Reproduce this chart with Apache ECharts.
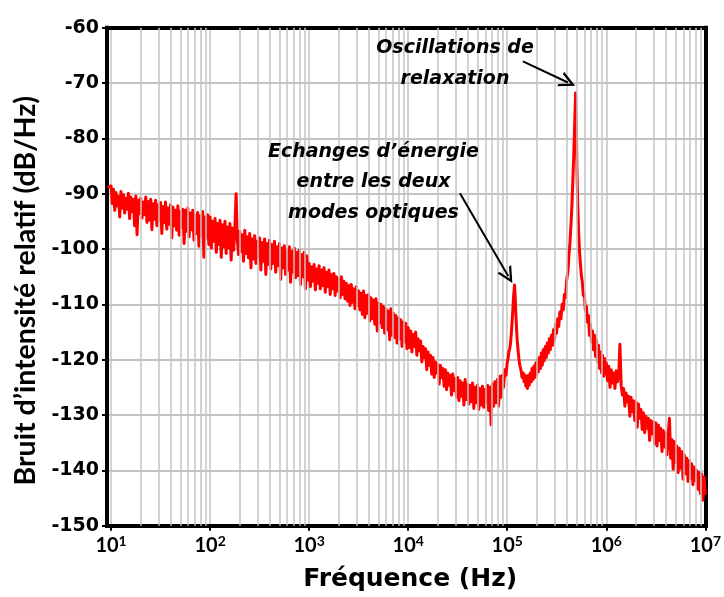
<!DOCTYPE html>
<html>
<head>
<meta charset="utf-8">
<script src="https://cdn.jsdelivr.net/npm/echarts@6/dist/echarts.min.js"></script>
<style>
html,body{margin:0;padding:0;background:#fff;}
#chart{width:724px;height:597px;}
</style>
</head>
<body>
<div id="chart"></div>
<script>
// ---- data (frequency in Hz, level in dB/Hz) ----
// sampling grid inside one decade (mantissas) used for the noisy decades
const sampleMantissa = [
  1.000,1.029,1.059,1.090,1.122,1.155,1.189,1.223,1.259,1.296,
  1.334,1.372,1.413,1.454,1.496,1.540,1.585,1.631,1.679,1.728,
  1.778,1.830,1.884,1.939,1.995,2.054,2.113,2.175,2.239,2.304,
  2.371,2.441,2.512,2.585,2.661,2.738,2.818,2.901,2.985,3.073,
  3.162,3.255,3.350,3.447,3.548,3.652,3.758,3.868,3.981,4.097,
  4.217,4.340,4.467,4.597,4.732,4.870,5.012,5.158,5.309,5.464,
  5.623,5.788,5.957,6.131,6.310,6.494,6.683,6.879,7.079,7.286,
  7.499,7.718,7.943,8.175,8.414,8.660,8.913,9.173,9.441,9.716
];
const startPoint = [9.2, -88.8];
const db10Hz = [
  -88.6,-91.8,-89.2,-93.0,-89.8,-92.2,-90.5,-94.2,-89.6,-92.6,
  -90.2,-93.5,-90.8,-92.8,-89.9,-94.5,-90.6,-93.2,-91.0,-95.8,
  -90.4,-97.4,-91.2,-93.6,-90.8,-94.4,-91.5,-93.8,-90.6,-95.2,
  -91.4,-94.8,-91.0,-96.5,-91.8,-94.6,-91.2,-95.8,-92.0,-94.9,
  -91.6,-97.2,-92.3,-95.2,-91.5,-96.4,-92.6,-95.5,-92.0,-98.0,
  -92.4,-95.8,-93.0,-96.6,-92.2,-97.5,-93.2,-96.0,-92.8,-99.0,
  -93.0,-96.8,-92.6,-97.8,-93.5,-96.5,-93.0,-98.4,-93.8,-97.2,
  -93.4,-99.5,-94.0,-97.6,-93.2,-101.5,-94.2,-98.0,-93.8,-99.2
];
const db100Hz = [
  -94.2,-99.8,-95.0,-98.6,-94.5,-100.6,-95.4,-99.2,-94.8,-101.5,
  -95.6,-99.6,-95.0,-100.8,-96.0,-99.8,-95.4,-102.0,-96.2,-100.2,
  -96.4,-90.0,-98.5,-101.0,-96.8,-100.4,-97.4,-102.2,-96.6,-100.8,
  -97.8,-101.6,-97.2,-103.4,-98.2,-101.8,-97.6,-102.6,-98.6,-101.4,
  -98.0,-103.8,-98.8,-102.2,-98.2,-104.6,-99.0,-102.8,-98.4,-103.6,
  -99.2,-102.6,-98.6,-104.2,-99.6,-103.0,-99.0,-105.5,-99.8,-103.4,
  -99.4,-104.6,-100.2,-103.8,-99.6,-106.0,-100.4,-104.2,-99.8,-105.2,
  -100.6,-104.8,-100.2,-106.4,-101.0,-105.0,-100.6,-107.2,-101.2,-105.6
];
const db1kHz = [
  -102.6,-106.8,-103.2,-105.8,-102.8,-107.4,-103.6,-106.2,-103.0,-107.2,
  -103.8,-106.6,-103.4,-107.8,-104.2,-106.8,-103.8,-108.2,-104.6,-107.2,
  -104.4,-108.4,-105.0,-107.6,-105.4,-108.8,-105.0,-108.2,-105.8,-109.0,
  -106.2,-109.4,-106.6,-110.2,-106.4,-109.6,-107.2,-110.8,-106.8,-110.2,
  -107.6,-111.0,-108.0,-111.8,-107.6,-112.4,-108.4,-111.6,-108.2,-113.0,
  -108.8,-112.6,-109.2,-113.6,-109.0,-114.8,-109.8,-113.4,-110.0,-114.2,
  -110.4,-115.2,-110.8,-114.6,-111.2,-116.4,-110.8,-115.6,-111.6,-116.0,
  -112.0,-117.0,-112.4,-116.2,-112.8,-117.6,-113.2,-116.8,-113.4,-118.0
];
const db10kHz = [
  -114.2,-117.8,-114.8,-118.6,-115.4,-117.6,-115.0,-119.2,-116.2,-118.4,
  -116.6,-120.4,-117.6,-119.6,-118.0,-121.8,-118.6,-121.0,-119.2,-122.6,
  -119.6,-123.2,-120.4,-122.4,-120.8,-124.4,-121.0,-123.2,-121.6,-124.8,
  -121.8,-125.4,-122.4,-124.6,-122.8,-126.4,-122.6,-125.6,-123.4,-126.8,
  -123.2,-127.4,-123.8,-126.6,-124.2,-128.2,-123.6,-127.2,-124.4,-128.0,
  -124.6,-127.6,-124.2,-128.8,-125.0,-127.8,-124.6,-129.0,-125.2,-128.2,
  -124.8,-128.6,-125.4,-127.8,-124.6,-129.2,-125.0,-131.8,-124.4,-128.4,
  -124.0,-127.8,-123.6,-128.4,-123.0,-126.8,-122.8,-125.0,-121.8,-122.8
];
// 100 kHz - 1 MHz: the two resonances, sampled where read
const freqPeakHz = [
  100000,102000,104000,106000,108000,110000,112000,114000,116000,118600,
  120500,122000,124000,126000,128500,131000,134000,138000,141000,145000,
  148000,151000,154000,157000,160000,164000,167000,171000,175000,178000,
  182000,186000,190000,194000,198000,202000,206000,211000,216000,221000,
  226000,231000,236000,242000,248000,254000,260000,266000,272000,279000,
  286000,293000,300000,307000,315000,323000,331000,340000,349000,358000,
  368000,378000,388000,398000,410000,420000,430000,440000,450000,460000,
  470000,480000,490000,498000,506000,515000,525000,535000,547000,560000,
  573000,587000,600000,615000,630000,645000,660000,676000,692000,708000,
  725000,742000,760000,778000,797000,816000,835000,855000,876000,897000,
  918000,940000,962000,985000
];
const dbPeak = [
  -120.5,-119.8,-118.5,-118.0,-117.0,-115.2,-113.0,-110.8,-108.4,-106.5,
  -108.8,-111.5,-114.2,-116.5,-118.2,-119.8,-121.0,-122.0,-123.2,-122.4,
  -124.0,-122.8,-124.8,-123.0,-125.2,-122.8,-124.6,-122.4,-124.0,-121.6,
  -123.6,-121.2,-123.2,-120.6,-122.8,-120.0,-122.2,-119.6,-121.6,-118.8,
  -121.0,-118.2,-120.2,-117.6,-119.6,-117.0,-118.8,-116.2,-118.2,-115.6,
  -117.4,-114.6,-116.4,-113.6,-115.2,-112.6,-114.0,-111.4,-112.6,-110.0,
  -111.0,-108.2,-108.8,-105.6,-104.0,-101.0,-98.8,-95.6,-92.0,-87.5,
  -82.5,-77.0,-71.8,-77.5,-86.0,-92.0,-96.5,-100.0,-102.5,-104.8,
  -106.0,-108.4,-108.0,-111.2,-110.4,-113.2,-112.0,-115.6,-113.6,-116.8,
  -114.8,-118.2,-115.6,-119.4,-116.4,-120.4,-117.4,-121.6,-118.6,-122.4,
  -119.2,-123.0,-119.8,-122.6
];
const db1MHz = [
  -120.6,-123.8,-121.2,-125.0,-121.8,-124.2,-122.4,-125.2,-122.0,-124.0,
  -123.0,-117.2,-124.6,-126.4,-125.2,-128.4,-126.0,-127.6,-126.6,-130.2,
  -126.8,-129.4,-127.4,-131.0,-127.6,-132.2,-128.0,-130.6,-129.0,-132.6,
  -129.6,-133.2,-130.2,-132.4,-130.6,-134.6,-131.0,-133.4,-131.2,-135.2,
  -131.4,-135.6,-131.8,-134.6,-132.4,-136.6,-132.8,-135.8,-133.2,-137.2,
  -133.6,-130.6,-137.8,-134.4,-139.8,-134.8,-138.6,-135.6,-140.4,-136.0,
  -139.6,-136.6,-141.6,-137.2,-140.6,-137.8,-142.0,-138.2,-141.4,-138.8,
  -142.6,-139.4,-141.8,-140.0,-143.4,-140.4,-144.2,-140.6,-145.4,-141.2
];
const endPoint = [1e7, -144.4];

// axis ranges and ticks
const xMin = 9.1, xMax = 1e7;
const xMajorTicks = [10, 100, 1000, 10000, 100000, 1000000, 10000000];
const xMinorMultipliers = [2, 3, 4, 5, 6, 7, 8, 9];
const yMin = -150, yMax = -60, yStep = 10;

// annotation texts and arrows (arrow ends in data units: [Hz, dB])
const noteRelax = ['Oscillations de', 'relaxation'];
const noteModes = ["Echanges d\u2019\u00e9nergie", 'entre les deux', 'modes optiques'];
const arrowRelax = [[144000, -66.1], [410000, -69.9]];
const arrowModes = [[33300, -89.9], [102500, -104.9]];

const xTitle = 'Fr\u00e9quence (Hz)';
const yTitle = 'Bruit d\u2019intensit\u00e9 relatif (dB/Hz)';

// ---- assemble the series ----
const seriesData = [startPoint];
[[10, db10Hz], [100, db100Hz], [1000, db1kHz], [10000, db10kHz]].forEach(([dec, arr]) => {
  arr.forEach((v, i) => seriesData.push([sampleMantissa[i] * dec, v]));
});
freqPeakHz.forEach((f, i) => seriesData.push([f, dbPeak[i]]));
db1MHz.forEach((v, i) => seriesData.push([sampleMantissa[i] * 1e6, v]));
seriesData.push(endPoint);

const minorLines = [];
xMajorTicks.slice(0, -1).forEach(d => xMinorMultipliers.forEach(m => minorLines.push({ xAxis: d * m })));

const chevron = 'path://M5,0 L10,11 L8.4,11 L5,3.4 L1.6,11 L0,11 Z';
const gridGray = '#c4c4c4';

const chart = echarts.init(document.getElementById('chart'), null, { renderer: 'canvas' });
chart.setOption({
  animation: false,
  backgroundColor: '#ffffff',
  grid: { left: 107, right: 15.7, top: 27.7, bottom: 71.3, containLabel: false },
  xAxis: [{
    type: 'log', logBase: 10, min: xMin, max: xMax,
    position: 'bottom',
    name: xTitle, nameLocation: 'middle', nameGap: 41,
    nameTextStyle: { fontFamily: 'DejaVu Sans', fontWeight: 'bold', fontSize: 25, color: '#000', padding: [0, 0, 0, 8] },
    axisLine: { show: true, lineStyle: { color: '#000', width: 4, cap: 'square' } },
    axisTick: { show: true, length: 5, lineStyle: { color: '#000', width: 2 }, customValues: xMajorTicks },
    axisLabel: {
      show: true, margin: 9, customValues: xMajorTicks,
      formatter: function (v) {
        const e = Math.round(Math.log10(v));
        if (Math.abs(Math.log10(v) - e) > 1e-6) return '';
        return '{b|10}{s|' + e + '}';
      },
      rich: {
        b: { fontFamily: 'Lato', fontWeight: 'bold', fontSize: 20, color: '#000', lineHeight: 22 },
        s: { fontFamily: 'Lato', fontWeight: 'bold', fontSize: 14, color: '#000', lineHeight: 14, verticalAlign: 'top' }
      }
    },
    splitLine: { show: true, lineStyle: { color: gridGray, width: 1.5 } },
    minorTick: { show: false }, minorSplitLine: { show: false }
  }, {
    type: 'log', logBase: 10, min: xMin, max: xMax, position: 'top',
    axisLine: { show: true, lineStyle: { color: '#000', width: 4, cap: 'square' } },
    axisTick: { show: false }, axisLabel: { show: false }, splitLine: { show: false }
  }],
  yAxis: [{
    type: 'value', min: yMin, max: yMax, interval: yStep, position: 'left',
    name: yTitle, nameLocation: 'middle', nameGap: 63, nameRotate: 90,
    nameTextStyle: { fontFamily: 'Lato', fontWeight: 'bold', fontSize: 28.5, color: '#000', padding: [0, 28, 0, 0] },
    axisLine: { show: true, lineStyle: { color: '#000', width: 4, cap: 'square' } },
    axisTick: { show: true, length: 5, lineStyle: { color: '#000', width: 2 } },
    axisLabel: { show: true, margin: 8, fontFamily: 'DejaVu Sans', fontWeight: 'bold', fontSize: 19, color: '#000' },
    splitLine: { show: true, lineStyle: { color: gridGray, width: 2 } }
  }, {
    type: 'value', min: yMin, max: yMax, interval: yStep, position: 'right',
    axisLine: { show: true, lineStyle: { color: '#000', width: 4, cap: 'square' } },
    axisTick: { show: false }, axisLabel: { show: false }, splitLine: { show: false }
  }],
  series: [{
    type: 'line', name: 'grid-minor', data: [], xAxisIndex: 0, yAxisIndex: 0, z: 1,
    silent: true, showSymbol: false, lineStyle: { width: 0 },
    markLine: {
      silent: true, symbol: 'none', animation: false,
      label: { show: false },
      lineStyle: { color: gridGray, width: 1.5, type: 'solid' },
      emphasis: { disabled: true },
      data: minorLines
    }
  }, {
    type: 'line', name: 'RIN', data: seriesData, xAxisIndex: 0, yAxisIndex: 0, z: 3,
    showSymbol: false, symbol: 'none', smooth: false, clip: true, sampling: 'none',
    lineStyle: { color: '#ff0000', width: 3, join: 'round' },
    markLine: {
      silent: true, animation: false,
      symbol: ['none', chevron], symbolSize: 16,
      label: { show: false },
      lineStyle: { color: '#000', width: 2, type: 'solid' },
      emphasis: { disabled: true },
      data: [
        [{ coord: arrowRelax[0] }, { coord: arrowRelax[1] }],
        [{ coord: arrowModes[0] }, { coord: arrowModes[1] }]
      ]
    }
  }],
  graphic: [{
    type: 'text', x: 455, y: 32.5, z: 10,
    style: { text: noteRelax.join('\n'), align: 'center', verticalAlign: 'top',
      font: 'italic bold 19px "DejaVu Sans"', lineHeight: 31, fill: '#000' }
  }, {
    type: 'text', x: 373.5, y: 136.5, z: 10,
    style: { text: noteModes.join('\n'), align: 'center', verticalAlign: 'top',
      font: 'italic bold 19px "DejaVu Sans"', lineHeight: 30.5, fill: '#000' }
  }]
});
</script>
</body>
</html>
